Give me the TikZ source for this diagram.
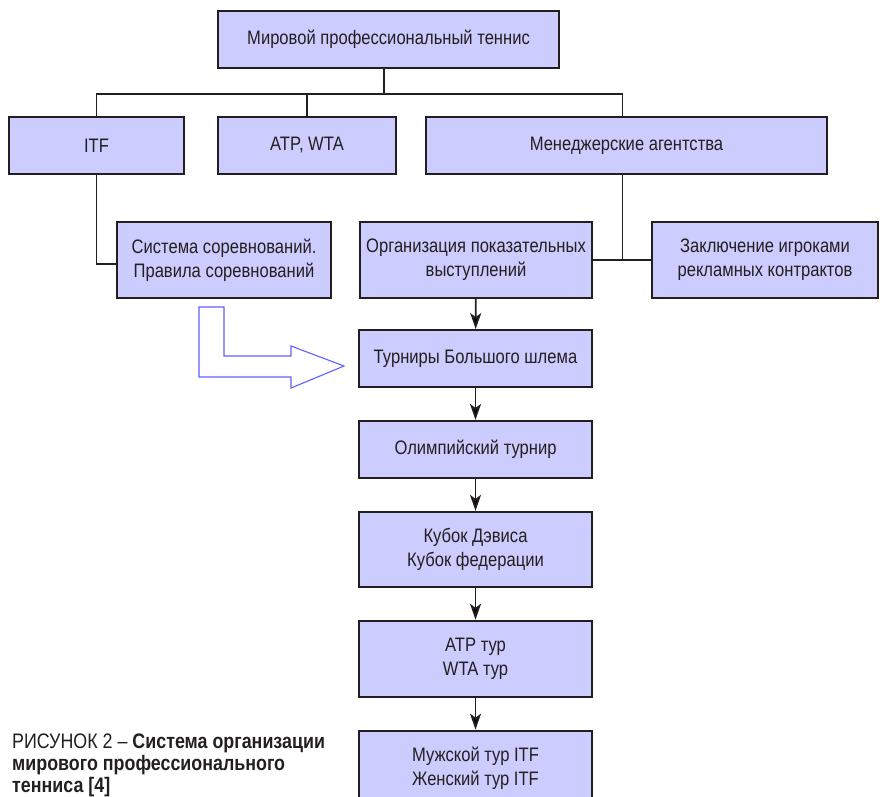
\documentclass[tikz,border=0pt]{standalone}
\usepackage{fontspec}
\setmainfont{Liberation Sans}[FakeStretch=0.85]
\usetikzlibrary{positioning,arrows.meta}
\definecolor{boxfill}{RGB}{204,204,255}
\definecolor{ink}{RGB}{35,31,32}
\definecolor{hollowblue}{RGB}{96,96,255}

\begin{document}
\begin{tikzpicture}[x=1pt,y=-1pt,>={Stealth[length=16pt,width=11pt,inset=4pt]},
node distance=32pt,
org node/.style={rectangle,draw=ink,fill=boxfill,line width=1.9pt,align=center,text=ink,font=\fontsize{19.5}{24}\selectfont,minimum height=57pt,inner sep=1pt},
tall node/.style={org node,minimum height=76pt},
link/.style={draw=ink,line width=1.7pt},
caption node/.style={align=left,anchor=north west,text=ink,font=\fontsize{21}{22}\selectfont,inner sep=0pt}]

\useasboundingbox (0,0) rectangle (880,796);

%Top
\node[org node,minimum width=341pt] (world) at (388.5,39.5) {Мировой профессиональный теннис};

%Organisations
\node[org node,minimum width=175pt] (itf) at (96.5,145.5) {ITF};
\node[org node,minimum width=178pt] (atp) at (307,145.5) {ATP, WTA};
\node[org node,minimum width=401pt] (mgr) at (626.5,145.5) {Менеджерские агентства};

%Activities
\node[tall node,minimum width=214pt] (rules) at (224,260) {Система соревнований.\\Правила соревнований};
\node[tall node,minimum width=232pt] (show) at (476,260) {Организация показательных\\выступлений};
\node[tall node,minimum width=226pt] (ads) at (765,260) {Заключение игроками\\рекламных контрактов};

%Tournaments
\node[org node,minimum width=233pt] (slam) at (475.5,358.5) {Турниры Большого шлема};
\node[org node,minimum width=233pt] (olymp) [below=of slam] {Олимпийский турнир};
\node[tall node,minimum width=233pt,minimum height=75pt] (cup) [below=of olymp] {Кубок Дэвиса\\Кубок федерации};
\node[tall node,minimum width=233pt] (tour) [below=of cup] {ATP тур\\WTA тур};
\node[tall node,minimum width=233pt] (itftour) [below=of tour] {Мужской тур ITF\\Женский тур ITF};

%Lines
\coordinate (worldfoot) at ([xshift=-4.5pt]world.south);
\coordinate (mgrtop) at ([xshift=-4pt]mgr.north);
\coordinate (mgrfoot) at ([xshift=-4pt]mgr.south);
\draw[link] (worldfoot) -- ++(0,25) coordinate (bus);
\draw[link] (itf.north) -- (itf.north |- bus) -- (bus -| mgrtop) -- (mgrtop);
\draw[link] (atp.north) -- (atp.north |- bus);
\draw[link] (itf.south) |- ([yshift=-4pt]rules.west);
\draw[link] (mgrfoot) -- (mgrfoot |- show.east);
\draw[link] (show.east) -- (ads.west);

%Arrows
\path[->,link]
(show)  edge (slam)
(slam)  edge (olymp)
(olymp) edge (cup)
(cup)   edge (tour)
(tour)  edge (itftour)
;

%Hollow arrow
\draw[hollowblue,line width=1.1pt] (199,307) -- (224,307) -- (224,356) -- (291,356) -- (291,346)
  -- (344,366) -- (291,388) -- (291,377) -- (199,377) -- cycle;

%Caption
\node[caption node] (caption) at (12,734) {РИСУНОК 2 – \textbf{Система организации}\\\textbf{мирового профессионального}\\\textbf{тенниса [4]}};
\end{tikzpicture}
\end{document}
